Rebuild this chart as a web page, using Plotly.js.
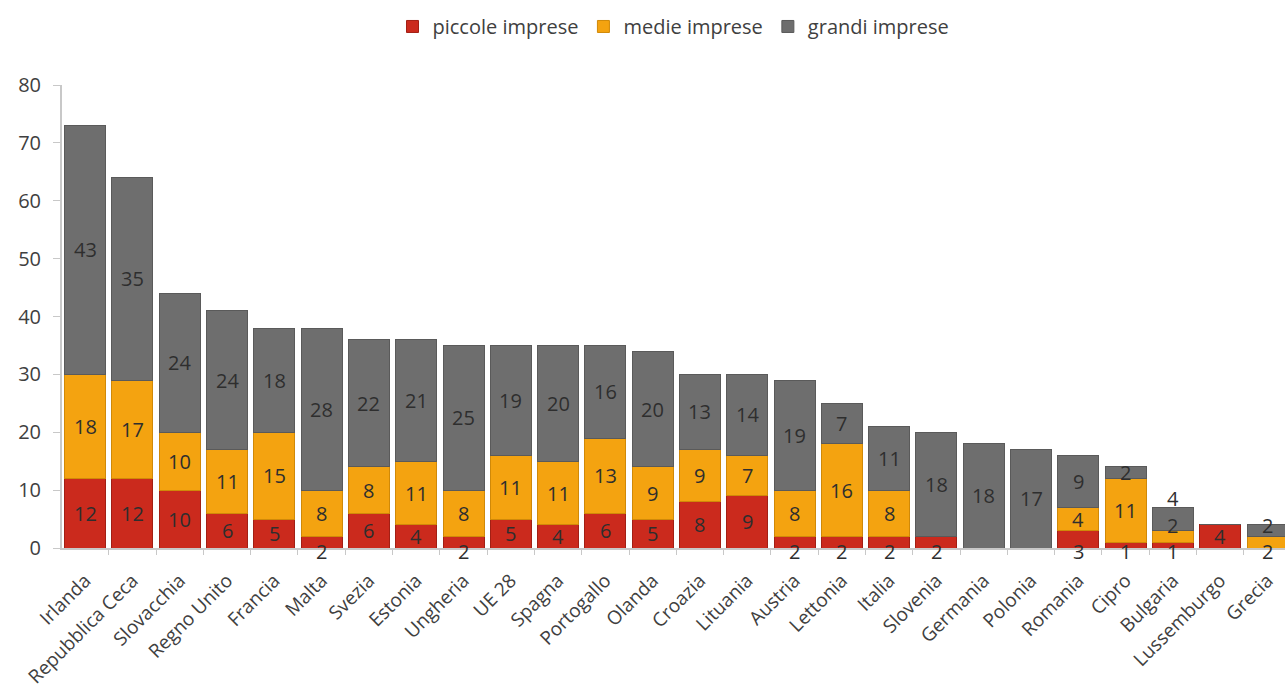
<!DOCTYPE html>
<html><head><meta charset="utf-8">
<script src="https://cdn.plot.ly/plotly-3.0.1.min.js"></script>
<style>html,body{margin:0;padding:0;background:#fff}#chart{width:1285px;height:698px}</style>
</head><body><div id="chart"></div>
<script>
const categories = ["Irlanda","Repubblica Ceca","Slovacchia","Regno Unito","Francia","Malta","Svezia","Estonia","Ungheria","UE 28","Spagna","Portogallo","Olanda","Croazia","Lituania","Austria","Lettonia","Italia","Slovenia","Germania","Polonia","Romania","Cipro","Bulgaria","Lussemburgo","Grecia"];
const piccole = [12,12,10,6,5,2,6,4,2,5,4,6,5,8,9,2,2,2,2,0,0,3,1,1,4,0];
const medie   = [18,17,10,11,15,8,8,11,8,11,11,13,9,9,7,8,16,8,0,0,0,4,11,2,0,2];
const grandi  = [43,35,24,24,18,28,22,21,25,19,20,16,20,13,14,19,7,11,18,18,17,9,2,4,0,2];
const seriesNames = ["piccole imprese","medie imprese","grandi imprese"];
const colors = ["#cb2a1d","#f4a310","#6e6e6e"];
const lineColors = ["#a21f14","#d08908","#5a5a5a"];

const series = [piccole, medie, grandi];
const traces = series.map((vals, i) => ({
  type: 'bar',
  name: seriesNames[i],
  x: categories,
  y: vals,
  marker: {color: colors[i], line: {color: lineColors[i], width: 1}},
  hoverinfo: 'x+y+name'
}));

// layout geometry (style)
const H = 698, mt = 85, mb = 150, yMax = 80;
const pxPerUnit = (H - mt - mb) / yMax;
const labelH = 26;

// data labels as annotations at segment centres (data coordinates)
const annotations = [];
categories.forEach((cat, j) => {
  let base = 0;
  let prevPix = null;
  let first = true;
  series.forEach((vals, i) => {
    const v = vals[j];
    if (v === 0) return;
    const centre = base + v / 2;
    let yVal = centre, shift = 0, pix;
    if (first && v <= 3) { // small bottom segment: label sits on the base line
      yVal = 0; shift = -3; pix = -3;
    } else {
      pix = centre * pxPerUnit;
      if (prevPix !== null && pix - prevPix < labelH) {
        shift = prevPix + labelH - pix; pix = prevPix + labelH;
      }
    }
    annotations.push({
      x: cat, y: yVal, xref: 'x', yref: 'y', text: String(v), showarrow: false,
      yshift: shift, yanchor: 'middle', xanchor: 'center',
      font: {family: 'Open Sans, sans-serif', size: 20, color: '#2e2e2e'}
    });
    prevPix = pix; first = false; base += v;
  });
});

const layout = {
  barmode: 'stack',
  bargap: 0.133,
  width: 1285, height: H,
  margin: {l: 62, r: 0, t: mt, b: mb},
  paper_bgcolor: '#fff', plot_bgcolor: '#fff',
  font: {family: 'Open Sans, sans-serif', color: '#404040'},
  showlegend: true,
  legend: {orientation: 'h', x: 0.5, xanchor: 'center', y: 0.99, yref: 'container', yanchor: 'top',
           font: {size: 20, color: '#404040'}, itemwidth: 30, traceorder: 'normal'},
  annotations: annotations,
  xaxis: {
    type: 'category', range: [-0.49, 25.37], tickangle: -45, autotickangles: [-45],
    tickfont: {size: 19, color: '#404040'}, ticklabelstandoff: 12,
    showline: true, linecolor: '#c8c8c8', linewidth: 2,
    ticks: 'outside', ticklen: 5, tickcolor: '#c8c8c8', tickson: 'boundaries',
    showgrid: false, zeroline: false
  },
  yaxis: {
    range: [0, yMax], dtick: 10, tickfont: {size: 20, color: '#404040'},
    showline: true, linecolor: '#c8c8c8', linewidth: 2,
    ticks: 'outside', ticklen: 7, tickcolor: '#c8c8c8', ticklabelstandoff: 8,
    showgrid: false, zeroline: false
  }
};
Plotly.newPlot('chart', traces, layout, {displayModeBar: false, staticPlot: true});
</script></body></html>
